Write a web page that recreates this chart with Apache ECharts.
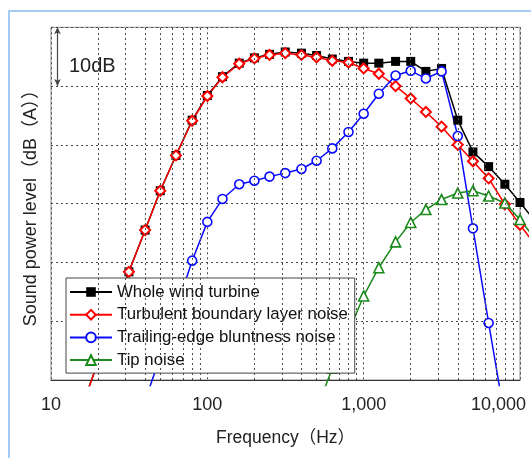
<!DOCTYPE html>
<html><head><meta charset="utf-8">
<script src="https://cdn.jsdelivr.net/npm/echarts@6/dist/echarts.min.js"></script>
<style>html,body{margin:0;padding:0;background:#fff}#c{width:531px;height:458px}</style>
</head><body><div id="c"></div>
<script>
// 1/3-octave band centre frequencies (Hz)
const freqs = [16,20,25,31.5,40,50,63,80,100,125,160,200,250,315,400,500,630,800,1000,1250,1600,2000,2500,3150,4000,5000,6300,8000,10000,12500];
// Relative sound power level (dB), 10 dB per grid division
const wholeTurbine = [-4,3,10.5,18.4,25.5,32.2,38.2,44.2,48.4,51.6,53.9,54.8,55.4,55.8,55.6,55.2,54.6,54.2,53.9,53.9,54.2,54.2,52.5,53.0,44.2,38.8,36.3,33.3,30.2,27.0];
const tblNoise     = [-4,3,10.5,18.4,25.5,32.2,38.2,44.1,48.3,51.5,53.8,54.7,55.3,55.6,55.3,54.9,54.3,54.0,53.0,52.1,50.0,47.9,45.6,43.1,40.0,37.2,34.3,29.9,26.4,23.0];
const tebNoise     = [null,null,null,null,-3.5,4.0,12.0,20.3,26.9,30.8,33.3,33.9,34.6,35.2,35.9,37.3,39.4,42.2,45.3,48.7,51.8,52.6,51.3,52.5,41.5,25.8,9.7,-6.5,null,null];
const tipNoise     = [null,null,null,null,null,null,null,null,null,null,null,null,null,null,null,-5,2,8.2,14.3,19.1,23.5,26.8,29.0,30.7,31.8,32.2,31.3,30.1,27.3,24.0];
const seriesNames = ['Whole wind turbine','Turbulent boundary layer noise','Trailing-edge bluntness noise','Tip noise'];
const minorFreqs = [20,30,40,50,60,70,80,90,200,300,400,500,600,700,800,900,2000,3000,4000,5000,6000,7000,8000,9000];
const xTickLabels = {10:'10',100:'100',1000:'1,000',10000:'10,000'};

const FONT = "'Liberation Sans','Noto Sans CJK JP',sans-serif";
const frame = {left:51, top:27.3, right:520, bottom:380};
const clipExtra = {right:6.7, bottom:5.5};
const decadePx = (frame.right - frame.left) / 3;
const dbPx = (frame.bottom - frame.top) / 60;
const clipXMax = Math.pow(10, 1 + (frame.right + clipExtra.right - frame.left) / decadePx);
const clipYMin = -clipExtra.bottom / dbPx;

function pairs(arr){ const out=[]; arr.forEach((v,i)=>{ if(v!==null) out.push([freqs[i], v]); }); return out; }
const grid = {type:[2,3], color:'#4a4a4a', width:1};

const chart = echarts.init(document.getElementById('c'));
chart.setOption({
  animation:false,
  textStyle:{fontFamily:FONT},
  graphic:[
    {type:'rect', shape:{x:9,y:11,width:700,height:700}, style:{fill:null, stroke:'#a4cbf3', lineWidth:2}, z:0, silent:true},
    {type:'text', left:69, top:56, style:{text:'10dB', fontSize:20, fontFamily:FONT, fill:'#222'}, z:10}
  ],
  grid:[
    {left:frame.left, top:frame.top, width:frame.right-frame.left, height:frame.bottom-frame.top, show:true, borderColor:'#8a8a8a', borderWidth:1, backgroundColor:'transparent'},
    {left:frame.left, top:frame.top, width:frame.right+clipExtra.right-frame.left, height:frame.bottom+clipExtra.bottom-frame.top}
  ],
  xAxis:[
    {type:'log', logBase:10, min:10, max:10000, gridIndex:0,
     axisLine:{show:true, lineStyle:{color:'#333', width:1}}, axisTick:{show:false},
     splitLine:{show:true, lineStyle:grid},
     axisLabel:{margin:16, fontSize:18, color:'#222', fontFamily:FONT,
       formatter:v=>{ const k=Math.round(v); return k===10000 ? '{r|10,000}' : (xTickLabels[k]||''); },
       rich:{r:{fontSize:18, color:'#222', fontFamily:FONT, padding:[0,43,0,0]}}},
     name:'Frequency（Hz）', nameLocation:'middle', nameGap:49,
     nameTextStyle:{fontSize:17.5, color:'#222', fontFamily:FONT}},
    {type:'log', logBase:10, min:10, max:clipXMax, gridIndex:1, show:false}
  ],
  yAxis:[
    {type:'value', min:0, max:60, interval:10, gridIndex:0,
     axisLine:{show:false}, axisTick:{show:false}, axisLabel:{show:false},
     splitLine:{show:true, lineStyle:grid},
     name:'Sound power level（dB（A））', nameLocation:'middle', nameGap:11,
     nameTextStyle:{fontSize:18, color:'#222', fontFamily:FONT}},
    {type:'value', min:clipYMin, max:60, gridIndex:1, show:false}
  ],
  legend:{
    data:seriesNames, orient:'vertical', left:66, top:278,
    padding:[5,7,4,3], itemWidth:42, itemHeight:12, itemGap:4.7, itemTextGap:8,
    backgroundColor:'#fff', borderColor:'#444', borderWidth:1, selectedMode:false,
    textStyle:{fontSize:16.8, color:'#111', fontFamily:FONT, lineHeight:18}
  },
  series:[
    {type:'line', xAxisIndex:0, yAxisIndex:0, data:[], silent:true,
     markLine:{silent:true, symbol:['none','none'], label:{show:false}, lineStyle:grid, animation:false,
       data: minorFreqs.map(f=>({xAxis:f})).concat([[
         {coord:[11,60], symbol:'arrow', symbolSize:[5,7], lineStyle:{type:'solid', color:'#444', width:1.2}},
         {coord:[11,50], symbol:'arrow', symbolSize:[5,7], lineStyle:{type:'solid', color:'#444', width:1.2}}
       ]])}},
    {name:seriesNames[0], type:'line', xAxisIndex:1, yAxisIndex:1, data:pairs(wholeTurbine), clip:true,
     symbol:'rect', symbolSize:9, color:'#000', itemStyle:{color:'#000'}, lineStyle:{color:'#000', width:1.5}},
    {name:seriesNames[1], type:'line', xAxisIndex:1, yAxisIndex:1, data:pairs(tblNoise), clip:true,
     symbol:'diamond', symbolSize:10, color:'#f00', itemStyle:{color:'#fff', borderColor:'#f00', borderWidth:2}, lineStyle:{color:'#f00', width:1.5}},
    {name:seriesNames[2], type:'line', xAxisIndex:1, yAxisIndex:1, data:pairs(tebNoise), clip:true,
     symbol:'circle', symbolSize:9, color:'#0a0aff', itemStyle:{color:'#fff', borderColor:'#0a0aff', borderWidth:1.6}, lineStyle:{color:'#0a0aff', width:1.5}},
    {name:seriesNames[3], type:'line', xAxisIndex:1, yAxisIndex:1, data:pairs(tipNoise), clip:true,
     symbol:'triangle', symbolSize:10, color:'#1a8a1a', itemStyle:{color:'#fff', borderColor:'#1a8a1a', borderWidth:1.6}, lineStyle:{color:'#1a8a1a', width:1.5}}
  ]
});
</script></body></html>
